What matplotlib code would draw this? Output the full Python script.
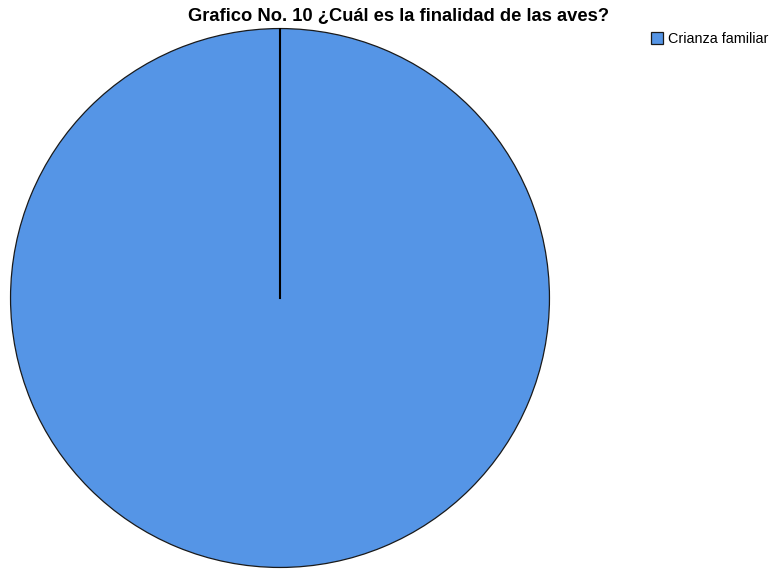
import matplotlib.pyplot as plt

categories = ["Crianza familiar"]
values = [100]
title = "Grafico No. 10 ¿Cuál es la finalidad de las aves?"

W, H = 772, 569
fig = plt.figure(figsize=(W / 100, H / 100), dpi=100)
plt.rcParams["font.family"] = ["Liberation Sans", "DejaVu Sans"]

# pie area in pixel coords
ax = fig.add_axes([10 / W, 1 - 568 / H, 540 / W, 540 / H])
wedges, _ = ax.pie(values, colors=["#5595e6"], startangle=90, counterclock=False,
                   wedgeprops=dict(edgecolor="#1a1a1a", linewidth=0.9))
ax.plot([0, 0], [0, 1], color="black", linewidth=1.5)
ax.set_xlim(-1.002, 1.002)
ax.set_ylim(-1.002, 1.002)
ax.set_aspect("equal")
ax.axis("off")

fig.text(399 / W, 1 - 16 / H, title, ha="center", va="center",
         fontsize=13.2, fontweight="bold")

fig.legend(wedges, categories, loc="upper left", bbox_to_anchor=(651 / W, 1 - 32 / H),
           frameon=False, fontsize=10.4, handlelength=0.85, handleheight=0.85,
           handletextpad=0.35, borderaxespad=0, borderpad=0)

fig.savefig("out.png", dpi=100)
